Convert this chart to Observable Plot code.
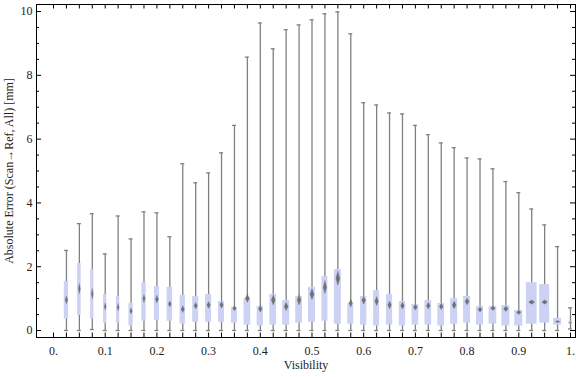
<!DOCTYPE html>
<html>
<head>
<meta charset="utf-8">
<script src="https://cdn.jsdelivr.net/npm/d3@7"></script>
<script src="https://cdn.jsdelivr.net/npm/@observablehq/plot@0.6"></script>
<style>
  html, body { margin: 0; padding: 0; background: #fff; }
  svg { display: block; }
</style>
</head>
<body>
<div id="chart"></div>
<script>
// ---- data ----
const visibility = [0.025,0.05,0.075,0.1,0.125,0.15,0.175,0.2,0.225,0.25,
  0.275,0.3,0.325,0.35,0.375,0.4,0.425,0.45,0.475,0.5,
  0.525,0.55,0.575,0.6,0.625,0.65,0.675,0.7,0.725,0.75,
  0.775,0.8,0.825,0.85,0.875,0.9,0.925,0.95,0.975,1.0];
const whiskerLow = [0,0,0.03,0,0,0,0,0,0,0, 0,0,0,0,0,0,0,0,0,0,
  0,0,0,0,0,0,0,0,0,0, 0,0,0,0,0,0,0,0,0,0.05];
const q1 = [0.36,0.47,0.36,0.23,0.24,0.14,0.29,0.31,0.29,0.20,
  0.26,0.26,0.26,0.23,0.17,0.14,0.17,0.17,0.23,0.26,
  0.29,0.20,0.20,0.17,0.14,0.17,0.14,0.17,0.17,0.14,
  0.20,0.23,0.17,0.20,0.14,0.14,0.20,0.23,0.17,0.20];
const median = [0.96,1.31,1.15,0.75,0.73,0.61,1.00,0.98,0.83,0.67,
  0.78,0.80,0.80,0.70,1.01,0.68,0.96,0.75,0.96,1.14,
  1.36,1.64,0.86,0.95,0.92,0.80,0.78,0.73,0.78,0.75,
  0.80,0.91,0.66,0.70,0.68,0.57,0.89,0.89,0.28,0.24];
const q3 = [1.54,2.10,1.91,1.13,1.07,0.85,1.50,1.38,1.35,1.10,
  1.07,1.13,0.91,0.72,1.00,0.75,1.13,0.94,1.07,1.35,
  1.69,1.91,0.85,1.07,1.25,1.13,0.91,0.82,0.94,0.85,
  1.00,1.07,0.75,0.75,0.78,0.63,1.50,1.44,0.38,0.28];
const whiskerHigh = [2.51,3.35,3.66,2.40,3.59,2.87,3.72,3.69,2.94,5.23,
  4.63,4.94,5.57,6.43,8.57,9.64,8.83,9.43,9.58,9.74,
  9.93,9.99,9.30,7.14,7.07,6.82,6.79,6.43,6.14,5.88,
  5.73,5.41,5.38,5.07,4.67,4.32,3.81,3.31,2.63,0.71];
// half-height of the median confidence diamond (error units)
const medianCI = [0.12,0.157,0.157,0.105,0.11,0.094,0.115,0.115,0.084,0.105,
  0.094,0.10,0.10,0.084,0.125,0.105,0.157,0.125,0.157,0.167,
  0.2,0.22,0.12,0.125,0.136,0.115,0.105,0.09,0.1,0.094,
  0.115,0.105,0.078,0.073,0.084,0.068,0.063,0.063,0.03,0.03];
// relative weight of each bin (drives box width)
const binWeight = [4.3,3.5,3.3,3.3,3.3,4.2,4.3,5,5.5,5.3,
  6,6,6,6,6.7,6.3,6.7,7,6.7,7,
  6,7,6,6.3,6,6.2,6.3,6.7,6.7,6.7,
  7,7,7,7.7,8,8,10.7,10,8,4];

const xMajorTicks = [0,0.1,0.2,0.3,0.4,0.5,0.6,0.7,0.8,0.9,1];
const xTickLabels = ["0.","0.1","0.2","0.3","0.4","0.5","0.6","0.7","0.8","0.9","1."];
const xMinorTicks = [0, ...visibility];
const yMajorTicks = [0,2,4,6,8,10];
const yMinorTicks = [0.5,1,1.5,2.5,3,3.5,4.5,5,5.5,6.5,7,7.5,8.5,9,9.5];
const xLabel = "Visibility";
const yLabel = "Absolute Error (Scan\u2192Ref, All) [mm]";

// ---- layout ----
const W = 576, H = 377;
const mL = 36, mR = 1, mT = 4, mB = 40;
const frameW = W - mL - mR, frameH = H - mT - mB;
const xDomain = [-0.0329, 1.0097];
const yDomain = [-0.219, 10.22];
const pxPerX = frameW / (xDomain[1] - xDomain[0]);
const bw = 1 / pxPerX;           // one pixel in x data units
const capHalf = 2 * bw;

const boxes = visibility.map((v, i) => ({
  v, lo: whiskerLow[i], q1: q1[i], med: median[i], q3: q3[i], hi: whiskerHigh[i],
  ci: medianCI[i], w: binWeight[i] * bw
}));
const diamonds = boxes.flatMap((b, i) => {
  const dw = b.w * 0.28;
  return [
    {id: i, x: b.v, y: b.med + b.ci},
    {id: i, x: b.v + dw, y: b.med},
    {id: i, x: b.v, y: b.med - b.ci},
    {id: i, x: b.v - dw, y: b.med},
    {id: i, x: b.v, y: b.med + b.ci}
  ];
});

const textColor = "#222";
const whiskerColor = "#808080";

const chart = Plot.plot({
  width: W, height: H,
  marginLeft: mL, marginRight: mR, marginTop: mT, marginBottom: mB,
  style: {fontFamily: "'Liberation Serif', 'DejaVu Serif', serif", fontSize: "12px", background: "#fff"},
  x: {domain: xDomain, axis: null},
  y: {domain: yDomain, axis: null},
  marks: [
    // whiskers
    Plot.ruleX(boxes, {x: "v", y1: "lo", y2: "hi", stroke: whiskerColor, strokeWidth: 1.3, clip: true}),
    Plot.ruleY(boxes, {y: "hi", x1: d => d.v - capHalf, x2: d => d.v + capHalf, stroke: whiskerColor, strokeWidth: 1.3, clip: true}),
    Plot.ruleY(boxes, {y: "lo", x1: d => d.v - capHalf, x2: d => d.v + capHalf, stroke: whiskerColor, strokeWidth: 1.3, clip: true}),
    // boxes
    Plot.rect(boxes, {x1: d => d.v - d.w / 2, x2: d => d.v + d.w / 2, y1: "q1", y2: "q3", fill: "#cbd2f4", clip: true}),
    // median diamonds
    Plot.line(diamonds, {x: "x", y: "y", z: "id", fill: "#707070", stroke: "#707070", strokeOpacity: 0.35, strokeWidth: 1, clip: true}),
    // frame
    Plot.frame({stroke: "black", strokeWidth: 1}),
    // ticks (inward)
    Plot.tickX(xMinorTicks, {x: d => d, insetTop: frameH - 4.5, stroke: "black"}),
    Plot.tickX(xMinorTicks, {x: d => d, insetBottom: frameH - 4.5, stroke: "black"}),
    Plot.tickY(yMajorTicks, {y: d => d, insetRight: frameW - 5, stroke: "black"}),
    Plot.tickY(yMinorTicks, {y: d => d, insetRight: frameW - 3, stroke: "black"}),
    Plot.tickY(yMajorTicks, {y: d => d, insetLeft: frameW - 5, stroke: "black"}),
    Plot.tickY(yMinorTicks, {y: d => d, insetLeft: frameW - 3, stroke: "black"}),
    // tick labels
    Plot.axisX(xMajorTicks, {anchor: "bottom", tickSize: 0, tickPadding: 9, label: null,
      tickFormat: d => xTickLabels[xMajorTicks.indexOf(d)], fill: textColor}),
    Plot.axisY(yMajorTicks, {anchor: "left", tickSize: 0, tickPadding: 4, label: null,
      tickFormat: d => String(d), fill: textColor}),
    // axis titles
    Plot.text([xLabel], {frameAnchor: "bottom", dy: 31, text: d => d, fill: textColor, fontSize: 12}),
    Plot.text([yLabel], {frameAnchor: "left", dx: -27, rotate: -90, textAnchor: "middle", text: d => d, fill: textColor, fontSize: 12})
  ]
});
document.getElementById("chart").appendChild(chart);
</script>
</body>
</html>
